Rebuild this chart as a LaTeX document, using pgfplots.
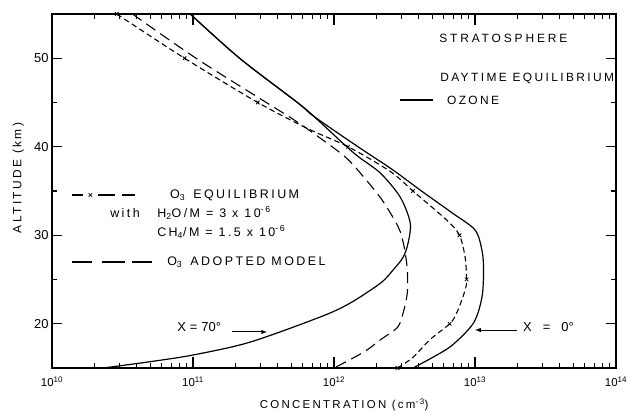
\documentclass[border=0pt]{standalone}
\usepackage{pgfplots}
\pgfplotsset{compat=1.18}
\usepackage{fontspec}
\setmainfont{Liberation Sans}
\newfontfamily\lab[LetterSpace=20]{Liberation Sans}
\newfontfamily\labw[LetterSpace=24]{Liberation Sans}
\begin{document}
\begin{tikzpicture}
\path[use as bounding box] (-52bp,-44bp) rectangle (576bp,368bp);
\begin{axis}[
  scale only axis, width=564bp, height=354bp,
  xmode=log, xmin=1e10, xmax=1e14, ymin=15, ymax=55,
  xtick={1e10,1e11,1e12,1e13,1e14},
  xticklabels={10\textsuperscript{10},10\textsuperscript{11},10\textsuperscript{12},10\textsuperscript{13},10\textsuperscript{14}},
  ytick={20,30,40,50}, yticklabels={20,30,40,50},
  tick align=inside,
  major tick length=0pt, minor tick length=0pt,
  axis line style={line width=1.4pt},
  x tick label style={font=\fontsize{11.5}{13}\selectfont, yshift=-5bp},
  y tick label style={font=\fontsize{13}{15}\selectfont},
  clip=false,
]
% chi = 0 deg ozone
\addplot[black, line width=1.2pt, smooth] coordinates {
(9.55e10,55) (2.14e11,50) (5.50e11,45) (7.24e11,43.4) (1.48e12,40)
(2.62e12,37.37) (4.17e12,35) (6.92e12,32.5) (1.0e13,30.6) (1.12e13,28.3) (1.15e13,26.1)
(1.12e13,23.0) (9.77e12,20.1) (6.92e12,17.6) (5.01e12,16.2) (3.63e12,15)};
% chi = 70 deg ozone
\addplot[black, line width=1.2pt, smooth] coordinates {
(9.55e10,55) (2.14e11,50) (5.50e11,45) (7.24e11,43.4) (1.23e12,40)
(1.51e12,38.8) (2.14e12,37.0) (2.95e12,34.3) (3.47e12,31.4) (3.35e12,29.1) (3.09e12,27.5)
(2.63e12,26.1) (2.14e12,24.6) (1.29e12,22.3) (7.94e11,20.75) (2.51e11,17.9)
(1.0e11,16.47) (4.90e10,15.7) (2.3e10,15)};
% O3 equilibrium
\addplot[black, line width=1.1pt, smooth, dash pattern=on 5.5bp off 3.5bp] coordinates {
(2.88e10,55) (8.71e10,50) (2.88e11,45) (6.61e11,42) (1.26e12,40) (2.51e12,37.2) (3.63e12,35)
(6.31e12,31.7) (7.76e12,30) (8.51e12,27.5) (8.71e12,25) (8.51e12,23.8) (7.41e12,21.2)
(6.61e12,20) (4.79e12,18.2) (3.63e12,16.2) (2.82e12,15)};
\addplot[black, only marks, mark=x, mark size=2.5bp, line width=0.8pt] coordinates {
(2.88e10,55) (8.71e10,50) (2.88e11,45) (1.26e12,40) (3.63e12,35) (7.76e12,30) (8.71e12,25) (6.61e12,20) (2.82e12,15)};
% O3 adopted model
\addplot[black, line width=1.1pt, smooth, dash pattern=on 11bp off 6bp] coordinates {
(3.72e10,55) (1.05e11,50) (3.31e11,45) (5.25e11,43) (7.94e11,41) (1.23e12,38.7) (1.70e12,36.2)
(2.19e12,34) (2.69e12,31.7) (2.95e12,30.4) (3.16e12,28.5) (3.31e12,26.1) (3.31e12,23.5) (3.09e12,21.2)
(2.82e12,19.6) (2.14e12,18.2) (1.70e12,17) (1.32e12,16) (1.0e12,15)};
% legend samples
\addplot[black, line width=1.1pt] coordinates {(1.39e10,34.55) (1.66e10,34.55)};
\addplot[black, only marks, mark=x, mark size=2.5bp, line width=0.8pt] coordinates {(1.87e10,34.55)};
\addplot[black, line width=1.1pt] coordinates {(2.12e10,34.55) (2.80e10,34.55)};
\addplot[black, line width=1.1pt] coordinates {(3.13e10,34.55) (3.88e10,34.55)};
\addplot[black, line width=1.1pt] coordinates {(1.39e10,26.98) (1.92e10,26.98)};
\addplot[black, line width=1.1pt] coordinates {(2.26e10,26.98) (3.30e10,26.98)};
\addplot[black, line width=1.1pt] coordinates {(3.69e10,26.98) (5.12e10,26.98)};
\addplot[black, line width=1.2pt] coordinates {(2.94e12,45.28) (5.04e12,45.28)};
% tick marks (drawn explicitly)
\pgfplotsinvokeforeach{2e10,3e10,4e10,5e10,6e10,7e10,8e10,9e10,2e11,3e11,4e11,5e11,6e11,7e11,8e11,9e11,2e12,3e12,4e12,5e12,6e12,7e12,8e12,9e12,2e13,3e13,4e13,5e13,6e13,7e13,8e13,9e13}{
  \draw[line width=1.1pt] (axis cs:#1,15) -- ([yshift=5bp]axis cs:#1,15);
  \draw[line width=1.1pt] (axis cs:#1,55) -- ([yshift=-5bp]axis cs:#1,55);
}
\pgfplotsinvokeforeach{1e11,1e12,1e13}{
  \draw[line width=1.4pt] (axis cs:#1,15) -- ([yshift=11bp]axis cs:#1,15);
  \draw[line width=1.4pt] (axis cs:#1,55) -- ([yshift=-11bp]axis cs:#1,55);
}
\pgfplotsinvokeforeach{20,30,40,50}{
  \draw[line width=1.4pt] (axis cs:1e10,#1) -- ([xshift=10bp]axis cs:1e10,#1);
  \draw[line width=1.4pt] (axis cs:1e14,#1) -- ([xshift=-10bp]axis cs:1e14,#1);
}
\pgfplotsinvokeforeach{25,35,45}{
  \draw[line width=1.1pt] (axis cs:1e10,#1) -- ([xshift=5bp]axis cs:1e10,#1);
  \draw[line width=1.1pt] (axis cs:1e14,#1) -- ([xshift=-5bp]axis cs:1e14,#1);
}
% arrows
\draw[-latex, line width=1pt] (axis cs:1.89e11,19.07) -- (axis cs:3.35e11,19.07);
\draw[-latex, line width=1pt] (axis cs:1.99e13,19.29) -- (axis cs:1.0e13,19.29);
% texts
\begin{scope}[every node/.style={anchor=west, inner sep=0pt}]
\node[font=\fontsize{12}{14}\labw] at (axis cs:5.56e12,52.29) {STRATOSPHERE};
\node[font=\fontsize{12}{14}\lab] at (axis cs:5.65e12,47.77) {DAYTIME EQUILIBRIUM};
\node[font=\fontsize{12}{14}\lab] at (axis cs:6.32e12,45.28) {OZONE};
\node[font=\fontsize{12.5}{14}\lab] at (axis cs:6.87e10,34.55) {O\textsubscript{3}\hspace{8bp}EQUILIBRIUM};
\node[font=\fontsize{12.5}{14}\lab] at (axis cs:2.58e10,32.51) {with};
\node[font=\fontsize{12.5}{14}\lab] at (axis cs:5.56e10,32.51) {H\textsubscript{2}O/M = 3 x 10\textsuperscript{-6}};
\node[font=\fontsize{12.5}{14}\lab] at (axis cs:5.56e10,30.37) {CH\textsubscript{4}/M = 1.5 x 10\textsuperscript{-6}};
\node[font=\fontsize{12.5}{14}\lab] at (axis cs:6.55e10,26.98) {O\textsubscript{3}\hspace{8bp}ADOPTED MODEL};
\node[font=\fontsize{13}{15}\selectfont] at (axis cs:7.71e10,19.63) {X\hspace{4bp}=\hspace{4bp}70°};
\node[font=\fontsize{13}{15}\selectfont] at (axis cs:2.19e13,19.6) {X\hspace{11bp}=\hspace{11bp}0°};
\end{scope}
\node[font=\fontsize{11.5}{13}\lab] at (rel axis cs:0.518,-0.105) {CONCENTRATION (cm\textsuperscript{-3})};
\node[font=\fontsize{12}{14}\lab, rotate=90] at (rel axis cs:-0.060,0.537) {ALTITUDE (km)};
\end{axis}
\end{tikzpicture}
\end{document}
